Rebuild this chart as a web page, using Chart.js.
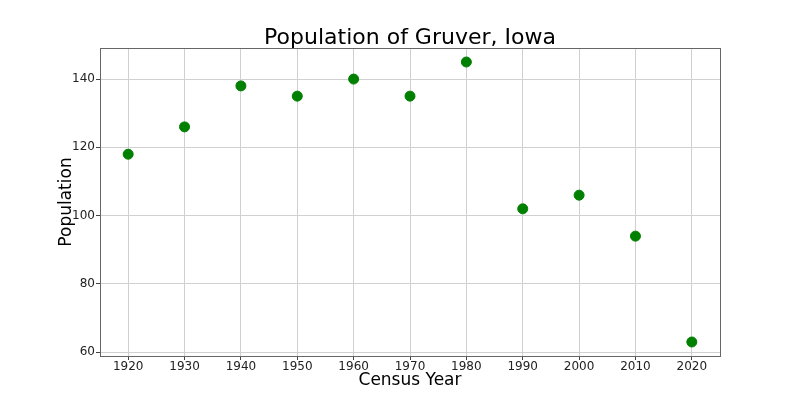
<!DOCTYPE html>
<html>
<head>
<meta charset="utf-8">
<script src="https://cdn.jsdelivr.net/npm/chart.js@4/dist/chart.umd.min.js"></script>
<style>
html,body{margin:0;padding:0;background:#fff;}
#wrap{width:800px;height:400px;position:relative;}
</style>
</head>
<body>
<div id="wrap"><canvas id="c"></canvas></div>
<script>
const years = [1920, 1930, 1940, 1950, 1960, 1970, 1980, 1990, 2000, 2010, 2020];
const population = [118, 126, 138, 135, 140, 135, 145, 102, 106, 94, 63];
const xTicks = [1920, 1930, 1940, 1950, 1960, 1970, 1980, 1990, 2000, 2010, 2020];
const yTicks = [60, 80, 100, 120, 140];
const titleText = 'Population of Gruver, Iowa';
const xTitle = 'Census Year';
const yTitle = 'Population';

Chart.defaults.font.family = '"DejaVu Sans", sans-serif';
Chart.defaults.color = '#222';

const frame = {
  id: 'frame',
  afterDraw(chart) {
    const a = chart.chartArea, ctx = chart.ctx;
    ctx.save();
    ctx.strokeStyle = '#666';
    ctx.lineWidth = 1;
    ctx.strokeRect(Math.round(a.left) + 0.5, Math.round(a.top) + 0.5, Math.round(a.right - a.left), Math.round(a.bottom - a.top));
    ctx.fillStyle = '#000';
    ctx.font = '22px "DejaVu Sans", sans-serif';
    ctx.textAlign = 'center';
    ctx.textBaseline = 'alphabetic';
    ctx.fillText(titleText, (a.left + a.right) / 2, 44);
    ctx.restore();
  }
};

new Chart(document.getElementById('c'), {
  type: 'scatter',
  data: {
    datasets: [{
      data: years.map((y, i) => ({x: y, y: population[i]})),
      backgroundColor: '#008000',
      borderColor: '#008000',
      pointRadius: 5,
      pointHoverRadius: 5
    }]
  },
  options: {
    responsive: true,
    maintainAspectRatio: false,
    animation: false,
    layout: {padding: {left: 0, right: 80, top: 48, bottom: 0}},
    plugins: {
      legend: {display: false},
      tooltip: {enabled: false},
      title: {display: false}
    },
    scales: {
      x: {
        type: 'linear',
        min: 1915,
        max: 2025,
        afterBuildTicks(scale) { scale.ticks = xTicks.map(v => ({value: v})); },
        afterFit(scale) { scale.height = 44; },
        grid: {color: '#d0d0d0', tickLength: 4, drawTicks: true, tickColor: '#444'},
        border: {display: false},
        ticks: {font: {size: 12}, padding: 0, maxRotation: 0, autoSkip: false, callback: v => String(v)},
        title: {display: true, text: xTitle, color: '#000', font: {size: 17}, padding: {top: 0, bottom: 9}}
      },
      y: {
        type: 'linear',
        min: 58.9,
        max: 149.1,
        afterBuildTicks(scale) { scale.ticks = yTicks.map(v => ({value: v})); },
        afterFit(scale) { scale.width = 100; },
        grid: {color: '#d0d0d0', tickLength: 4, drawTicks: true, tickColor: '#444'},
        border: {display: false},
        ticks: {font: {size: 12}, padding: 1, callback: v => String(v)},
        title: {display: true, text: yTitle, color: '#000', font: {size: 17}, padding: {top: 56, bottom: 0}}
      }
    }
  },
  plugins: [frame]
});
</script>
</body>
</html>
